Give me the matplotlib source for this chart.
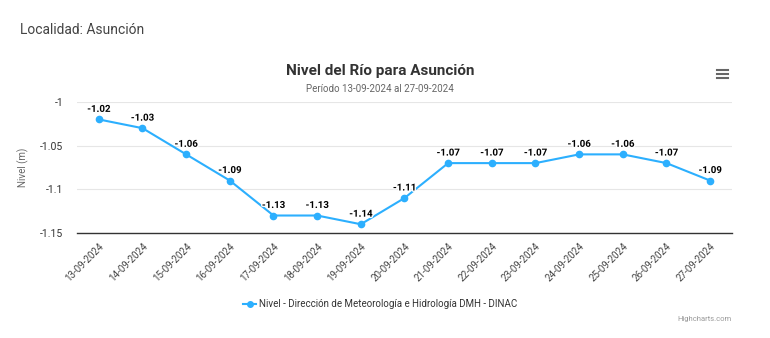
import matplotlib.pyplot as plt
import matplotlib.patheffects as pe
import numpy as np

fechas = ["13-09-2024", "14-09-2024", "15-09-2024", "16-09-2024", "17-09-2024",
          "18-09-2024", "19-09-2024", "20-09-2024", "21-09-2024", "22-09-2024",
          "23-09-2024", "24-09-2024", "25-09-2024", "26-09-2024", "27-09-2024"]
nivel = [-1.02, -1.03, -1.06, -1.09, -1.13, -1.13, -1.14, -1.11,
         -1.07, -1.07, -1.07, -1.06, -1.06, -1.07, -1.09]
y_ticks = [-1, -1.05, -1.1, -1.15]
y_tick_labels = ["-1", "-1.05", "-1.1", "-1.15"]

plt.rcParams['font.family'] = ['Roboto', 'DejaVu Sans']

W, H = 770, 338
fig = plt.figure(figsize=(W / 100, H / 100), dpi=100)
ax = fig.add_axes([0.1, 0.3107, 0.8506, 0.3876])

x = np.arange(len(fechas))
color = "#2caffe"
ax.plot(x, nivel, color=color, lw=1.5, marker="o", ms=4.5, zorder=3)

for xi, v in zip(x, nivel):
    t = ax.annotate(f"{v:.2f}", (xi, v), xytext=(0, 4), textcoords="offset points",
                    ha="center", va="bottom", fontsize=7, fontweight="bold", color="black")
    t.set_path_effects([pe.withStroke(linewidth=2, foreground="white")])

ax.set_xlim(-0.5, len(fechas) - 0.5)
ax.set_ylim(-1.15, -1.0)
ax.set_yticks(y_ticks)
ax.set_yticklabels(y_tick_labels)
ax.set_xticks(x)
ax.set_xticklabels(fechas, rotation=45, ha="right", rotation_mode="anchor")
ax.tick_params(axis="x", length=0, labelsize=7, colors="#444444", pad=6)
ax.tick_params(axis="y", length=0, labelsize=7.5, colors="#333333", pad=10)
ax.grid(axis="y", color="#e6e6e6", lw=0.8)
ax.set_axisbelow(True)
for s in ["top", "right", "left"]:
    ax.spines[s].set_visible(False)
ax.spines["bottom"].set_color("#333333")
ax.spines["bottom"].set_linewidth(1)
ax.set_ylabel("Nivel (m)", fontsize=7, color="#666666", labelpad=8)

fig.text(20 / W, 1 - 30 / H, "Localidad: Asunción", fontsize=10, color="#444444",
         va="center", ha="left")
fig.text(380 / W, 1 - 71 / H, "Nivel del Río para Asunción", fontsize=11,
         fontweight="bold", color="#333333", ha="center", va="center")
fig.text(380 / W, 1 - 89 / H, "Período 13-09-2024 al 27-09-2024", fontsize=7,
         color="#666666", ha="center", va="center")

# legend entry
fig.add_artist(plt.Line2D([243 / W, 256 / W], [1 - 304 / H] * 2, color=color,
                          lw=1.5, transform=fig.transFigure))
fig.add_artist(plt.Line2D([249.5 / W], [1 - 304 / H], color=color, marker="o", ms=4,
                          transform=fig.transFigure))
fig.text(259 / W, 1 - 304 / H, "Nivel - Dirección de Meteorología e Hidrología DMH - DINAC",
         fontsize=7, color="#333333", ha="left", va="center")
fig.text(732 / W, 1 - 319 / H, "Highcharts.com", fontsize=5.5, color="#999999",
         ha="right", va="center")

# menu icon
for yy in [70, 74, 78]:
    fig.add_artist(plt.Line2D([717 / W, 728 / W], [1 - yy / H] * 2, color="#666666",
                              lw=1.5, transform=fig.transFigure))

fig.savefig("out.png", dpi=100, facecolor="white")
